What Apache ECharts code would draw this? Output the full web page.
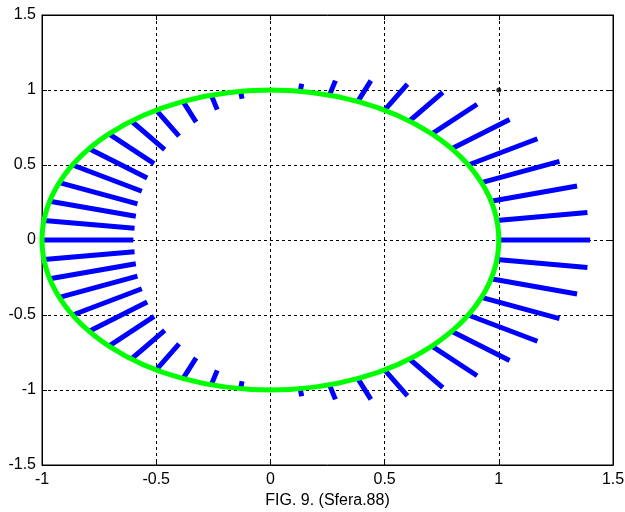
<!DOCTYPE html>
<html>
<head>
<meta charset="utf-8">
<script src="https://cdn.jsdelivr.net/npm/echarts@6/dist/echarts.min.js"></script>
<style>
html, body { margin: 0; padding: 0; background: #fff; }
#main { width: 625px; height: 512px; }
</style>
</head>
<body>
<div id="main"></div>
<script>
// axis ranges / ticks
var xRange = [-1, 1.5];
var yRange = [-1.5, 1.5];
var tickStep = 0.5;

// green circle (center x, center y, radius)
var circleData = [[0, 0, 1]];

// blue spikes: direction in degrees, radius where the spike ends
var spikeAngles = [
  0, 7.5, 15, 22.5, 30, 37.5, 45, 52.5, 60, 67.5, 75, 82.5,
  90, 97.5, 105, 112.5, 120, 127.5, 135, 142.5, 150, 157.5, 165, 172.5,
  180, 187.5, 195, 202.5, 210, 217.5, 225, 232.5, 240, 247.5, 255, 262.5,
  270, 277.5, 285, 292.5, 300, 307.5, 315, 322.5, 330, 337.5, 345, 352.5
];
var spikeTips = [
  1.40, 1.40, 1.39, 1.37, 1.35, 1.32, 1.28, 1.24, 1.20, 1.15, 1.10, 1.05,
  1.00, 0.95, 0.90, 0.85, 0.80, 0.76, 0.72, 0.68, 0.65, 0.63, 0.61, 0.60,
  0.60, 0.60, 0.61, 0.63, 0.65, 0.68, 0.72, 0.76, 0.80, 0.85, 0.90, 0.95,
  1.00, 1.05, 1.10, 1.15, 1.20, 1.24, 1.28, 1.32, 1.35, 1.37, 1.39, 1.40
];

// single black point
var dotData = [[1, 1]];

var labelFont = 'Liberation Sans, Arial, sans-serif';
var labelSize = 16;

// spike goes from the circle (r = 1) to its tip radius
var spikeData = spikeAngles.map(function (deg, i) {
  var a = deg * Math.PI / 180;
  var r0 = circleData[0][2];
  var r1 = spikeTips[i];
  return [r0 * Math.cos(a), r0 * Math.sin(a), r1 * Math.cos(a), r1 * Math.sin(a)];
});

function renderSpike(params, api) {
  var p1 = api.coord([api.value(0), api.value(1)]);
  var p2 = api.coord([api.value(2), api.value(3)]);
  return {
    type: 'line',
    shape: { x1: p1[0], y1: p1[1], x2: p2[0], y2: p2[1] },
    style: { stroke: '#0000ff', lineWidth: 5, lineCap: 'butt' }
  };
}

function renderCircle(params, api) {
  var c = api.coord([api.value(0), api.value(1)]);
  var s = api.size([api.value(2), api.value(2)]);
  return {
    type: 'ellipse',
    shape: { cx: c[0], cy: c[1], rx: s[0], ry: s[1] },
    style: { fill: 'none', stroke: '#00ff00', lineWidth: 5 }
  };
}

function valueAxis(range, pos, withLabels, extra) {
  var ax = {
    type: 'value',
    position: pos,
    min: range[0],
    max: range[1],
    interval: tickStep,
    axisLine: { show: true, onZero: false, lineStyle: { color: '#000', width: 1 } },
    axisTick: { show: true, inside: true, length: 5, lineStyle: { color: '#000' } },
    axisLabel: {
      show: withLabels,
      color: '#000',
      fontSize: labelSize,
      fontFamily: labelFont
    },
    splitLine: {
      show: withLabels,
      lineStyle: { color: '#000', type: [3, 3], width: 1 }
    }
  };
  return Object.assign(ax, extra || {});
}

var myChart = echarts.init(document.getElementById('main'));

var option = {
  backgroundColor: '#fff',
  animation: false,
  grid: {
    left: 42,
    right: 12,
    top: 15,
    bottom: 47,
    outerBoundsMode: 'none',
    show: true,
    borderColor: '#000',
    borderWidth: 1,
    backgroundColor: '#fff'
  },
  xAxis: [
    valueAxis(xRange, 'bottom', true, {
      name: 'FIG. 9. (Sfera.88)',
      nameLocation: 'middle',
      nameGap: 28,
      nameTextStyle: { color: '#000', fontSize: labelSize, fontFamily: labelFont },
      axisLabel: { color: '#000', fontSize: labelSize, fontFamily: labelFont, margin: 7 }
    }),
    valueAxis(xRange, 'top', false)
  ],
  yAxis: [
    valueAxis(yRange, 'left', true, {
      axisLabel: { color: '#000', fontSize: labelSize, fontFamily: labelFont, margin: 6 }
    }),
    valueAxis(yRange, 'right', false)
  ],
  series: [
    {
      type: 'custom',
      renderItem: renderSpike,
      data: spikeData,
      encode: { x: [0, 2], y: [1, 3] },
      z: 2
    },
    {
      type: 'custom',
      renderItem: renderCircle,
      data: circleData,
      encode: { x: 0, y: 1 },
      z: 3
    },
    {
      type: 'scatter',
      data: dotData,
      symbolSize: 5,
      itemStyle: { color: '#000' },
      z: 4
    }
  ]
};

option && myChart.setOption(option);
</script>
</body>
</html>
